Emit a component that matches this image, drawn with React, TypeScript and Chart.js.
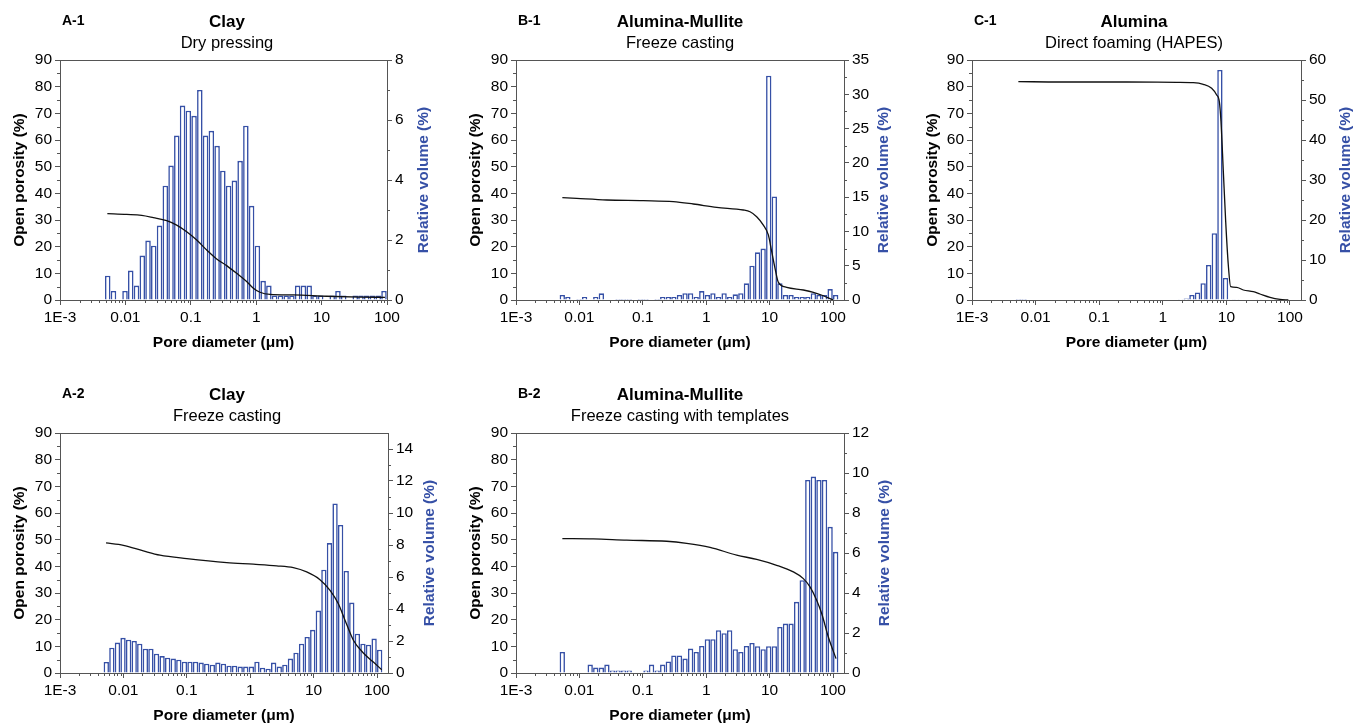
import React, { useEffect, useRef } from 'react';
import { Chart, registerables } from 'chart.js';

Chart.register(...registerables);

const FONT = '"Liberation Sans", Arial, Helvetica, sans-serif';
Chart.defaults.font.family = FONT;
Chart.defaults.color = '#000';

const BLUE = '#3650a6';
const AXIS = '#555555';
const TICK_FONT = 15.5;

// bin centres: log10(pore diameter / µm)
const binLog10 = [
  -2.27, -2.182, -2.094, -2.006, -1.918, -1.83, -1.742, -1.654, -1.566, -1.478,
  -1.39, -1.302, -1.214, -1.126, -1.038, -0.95, -0.862, -0.774, -0.686, -0.598,
  -0.51, -0.422, -0.334, -0.246, -0.158, -0.07, 0.018, 0.106, 0.194, 0.282,
  0.37, 0.458, 0.546, 0.634, 0.722, 0.81, 0.898, 0.986, 1.074, 1.162,
  1.25, 1.338, 1.426, 1.514, 1.602, 1.69, 1.778, 1.866, 1.954, 2.042,
];

const xTickLog10 = [-3, -2, -1, 0, 1, 2];
const xTickLabels = ['1E-3', '0.01', '0.1', '1', '10', '100'];
const xMinorFactors = [2, 3, 4, 5, 6, 7, 8, 9];
const porosityTicks = [0, 10, 20, 30, 40, 50, 60, 70, 80, 90];
const porosityMinorTicks = [5, 15, 25, 35, 45, 55, 65, 75, 85];

// ---- A-1 Clay, dry pressing
const a1Volume = [
  0.81, 0.3, 0, 0.3, 0.98, 0.48, 1.48, 1.98, 1.81, 2.48,
  3.81, 4.48, 5.48, 6.48, 6.31, 6.14, 7.0, 5.48, 5.64, 5.14,
  4.31, 3.81, 3.98, 4.64, 5.81, 3.14, 1.81, 0.64, 0.48, 0.15,
  0.15, 0.15, 0.15, 0.48, 0.48, 0.48, 0.15, 0.15, 0, 0.15,
  0.3, 0.15, 0, 0.15, 0.15, 0.15, 0.15, 0.15, 0.3,
];
const a1CurveLog10 = [-2.276, -1.981, -1.751, -1.573, -1.369, -1.216, -1.063, -0.91, -0.757, -0.604, -0.452, -0.299, -0.146, -0.044, 0.058, 0.211, 0.568, 1.077, 1.587, 1.969];
const a1CurvePorosity = [32.4, 32.1, 31.75, 30.9, 29.75, 28.1, 25.6, 22.5, 18.75, 15.4, 12.9, 10.0, 6.9, 4.4, 2.9, 2.1, 1.9, 1.4, 1.1, 1.0];
const a1VolTicks = [0, 2, 4, 6, 8];
const a1VolMinor = [1, 3, 5, 7];

// ---- B-1 Alumina-Mullite, freeze casting
const b1Volume = [
  0.73, 0.44, 0, 0.15, 0.44, 0, 0.44, 0.97, 0, 0,
  0.15, 0.15, 0.15, 0, 0.15, 0.15, 0, 0.15, 0.44, 0.44,
  0.44, 0.73, 1.0, 1.0, 0.44, 1.3, 0.73, 1.0, 0.44, 1.0,
  0.44, 0.83, 1.0, 2.43, 5.0, 6.95, 7.5, 32.7, 15.1, 2.43,
  0.73, 0.73, 0.44, 0.44, 0.44, 1.0, 0.73, 0.73, 1.6, 0.73,
];
const b1CurveLog10 = [-2.269, -2.043, -1.57, -0.992, -0.519, -0.203, 0.165, 0.586, 0.691, 0.796, 0.901, 0.98, 1.033, 1.085, 1.138, 1.269, 1.532, 1.69, 1.848, 2.005];
const b1CurvePorosity = [38.4, 38.1, 37.5, 37.25, 36.9, 36.0, 34.75, 33.75, 33.1, 31.25, 28.1, 24.4, 18.1, 11.9, 6.6, 4.75, 3.75, 2.9, 1.6, 0];
const b1VolTicks = [0, 5, 10, 15, 20, 25, 30, 35];
const b1VolMinor = [2.5, 7.5, 12.5, 17.5, 22.5, 27.5, 32.5];

// ---- C-1 Alumina, direct foaming (HAPES)
const c1Volume = [
  0.25, 0.25, 0.15, 0, 0, 0.15, 0, 0, 0, 0,
  0, 0, 0.1, 0, 0, 0, 0, 0, 0, 0,
  0, 0, 0, 0, 0, 0, 0, 0, 0.1, 0.2,
  0.4, 1.25, 1.9, 4.2, 8.75, 16.7, 57.5, 5.5, 0.2, 0.2,
  0, 0.1, 0, 0.2, 0, 0, 0, 0, 0, 0,
];
const c1CurveLog10 = [-2.271, -1.616, -0.568, 0.218, 0.48, 0.637, 0.768, 0.847, 0.889, 0.915, 0.952, 0.989, 1.03, 1.067, 1.161, 1.266, 1.423, 1.528, 1.686, 1.843, 1.974];
const c1CurvePorosity = [81.9, 81.75, 81.75, 81.6, 81.5, 80.9, 79.4, 76.9, 74.4, 66.9, 48.1, 29.4, 13.1, 5.0, 4.75, 3.75, 3.1, 2.25, 1.0, 0.25, 0];
const c1VolTicks = [0, 10, 20, 30, 40, 50, 60];
const c1VolMinor = [5, 15, 25, 35, 45, 55];

// ---- A-2 Clay, freeze casting
const a2Volume = [
  0.69, 1.58, 1.9, 2.2, 2.08, 2.0, 1.83, 1.52, 1.52, 1.21,
  1.06, 0.96, 0.9, 0.83, 0.71, 0.71, 0.71, 0.65, 0.58, 0.52,
  0.65, 0.58, 0.46, 0.46, 0.4, 0.4, 0.4, 0.71, 0.33, 0.27,
  0.65, 0.4, 0.52, 0.9, 1.27, 1.83, 2.25, 2.7, 3.9, 6.46,
  8.12, 10.6, 9.25, 6.38, 4.4, 2.46, 1.83, 1.77, 2.15, 1.46,
];
const a2CurveLog10 = [-2.274, -2.0, -1.686, -1.423, -1.0, -0.371, 0.049, 0.417, 0.68, 0.89, 1.1, 1.259, 1.39, 1.495, 1.627, 1.784, 1.942, 2.074];
const a2CurvePorosity = [48.8, 47.9, 45.8, 44.2, 42.9, 41.4, 40.8, 40.2, 39.5, 37.9, 35.0, 31.0, 26.0, 19.8, 12.3, 7.5, 4.1, 1.25];
const a2VolTicks = [0, 2, 4, 6, 8, 10, 12, 14];
const a2VolMinor = [1, 3, 5, 7, 9, 11, 13];

// ---- B-2 Alumina-Mullite, freeze casting with templates
const b2Volume = [
  1.05, 0, 0, 0, 0, 0.42, 0.27, 0.27, 0.42, 0.12,
  0.12, 0.12, 0.12, 0, 0, 0.12, 0.42, 0.12, 0.42, 0.58,
  0.88, 0.88, 0.72, 1.22, 1.05, 1.35, 1.69, 1.69, 2.14, 1.99,
  2.14, 1.19, 1.05, 1.35, 1.5, 1.34, 1.19, 1.34, 1.34, 2.3,
  2.47, 2.47, 3.56, 4.64, 9.65, 9.82, 9.65, 9.65, 7.31, 6.06,
];
const b2CurveLog10 = [-2.269, -1.78, -1.254, -0.624, -0.308, 0.06, 0.481, 0.796, 1.111, 1.374, 1.532, 1.637, 1.742, 1.821, 1.926, 2.047];
const b2CurvePorosity = [50.4, 50.3, 49.8, 49.4, 48.6, 47.1, 44.2, 42.6, 40.4, 37.9, 35.4, 32.3, 27.3, 22.3, 13.5, 5.4];
const b2VolTicks = [0, 2, 4, 6, 8, 10, 12];
const b2VolMinor = [1, 3, 5, 7, 9, 11];

type PanelCfg = {
  id: string;
  title: string;
  subtitle: string;
  plotL: number;
  plotR: number;
  plotT: number;
  xMax: number;
  volMax: number;
  volTicks: number[];
  volMinor: number[];
  volume: number[];
  curveLog10: number[];
  curvePorosity: number[];
  leftTitleX: number;
  rightTitleX: number;
  titleX: number;
};

const panels: PanelCfg[] = [
  { id: 'A-1', title: 'Clay', subtitle: 'Dry pressing', plotL: 60, plotR: 387, plotT: 60, xMax: 2.0, volMax: 8, volTicks: a1VolTicks, volMinor: a1VolMinor, volume: a1Volume, curveLog10: a1CurveLog10, curvePorosity: a1CurvePorosity, leftTitleX: 19, rightTitleX: 424, titleX: 227 },
  { id: 'B-1', title: 'Alumina-Mullite', subtitle: 'Freeze casting', plotL: 516, plotR: 844, plotT: 60, xMax: 2.173, volMax: 35, volTicks: b1VolTicks, volMinor: b1VolMinor, volume: b1Volume, curveLog10: b1CurveLog10, curvePorosity: b1CurvePorosity, leftTitleX: 475, rightTitleX: 884, titleX: 680 },
  { id: 'C-1', title: 'Alumina', subtitle: 'Direct foaming (HAPES)', plotL: 972, plotR: 1301, plotT: 60, xMax: 2.173, volMax: 60, volTicks: c1VolTicks, volMinor: c1VolMinor, volume: c1Volume, curveLog10: c1CurveLog10, curvePorosity: c1CurvePorosity, leftTitleX: 932, rightTitleX: 1346, titleX: 1134 },
  { id: 'A-2', title: 'Clay', subtitle: 'Freeze casting', plotL: 60, plotR: 388, plotT: 433, xMax: 2.173, volMax: 15, volTicks: a2VolTicks, volMinor: a2VolMinor, volume: a2Volume, curveLog10: a2CurveLog10, curvePorosity: a2CurvePorosity, leftTitleX: 19, rightTitleX: 430, titleX: 227 },
  { id: 'B-2', title: 'Alumina-Mullite', subtitle: 'Freeze casting with templates', plotL: 516, plotR: 844, plotT: 433, xMax: 2.173, volMax: 12, volTicks: b2VolTicks, volMinor: b2VolMinor, volume: b2Volume, curveLog10: b2CurveLog10, curvePorosity: b2CurvePorosity, leftTitleX: 475, rightTitleX: 885, titleX: 680 },
];

const TITLE_OFF = 13.3; // half line height + title padding
const PLOT_H = 240;
const X_AXIS_H = 56;
const TOP_PAD = 60;

const framePlugin = {
  id: 'frame',
  afterDraw(chart: any, _args: any, opts: any) {
    const { ctx, chartArea: ca, scales } = chart;
    ctx.save();
    ctx.strokeStyle = AXIS;
    ctx.lineWidth = 1;
    ctx.beginPath();
    ctx.moveTo(ca.left, Math.round(ca.top) + 0.5);
    ctx.lineTo(ca.right, Math.round(ca.top) + 0.5);
    const sx = scales.x;
    for (const v of opts.xMinor as number[]) {
      if (v < sx.min || v > sx.max) continue;
      const px = Math.round(sx.getPixelForValue(v)) + 0.5;
      ctx.moveTo(px, ca.bottom);
      ctx.lineTo(px, ca.bottom + 3);
    }
    const sy = scales.y;
    for (const v of opts.yMinor as number[]) {
      const py = Math.round(sy.getPixelForValue(v)) + 0.5;
      ctx.moveTo(ca.left - 3, py);
      ctx.lineTo(ca.left, py);
    }
    const sy1 = scales.y1;
    for (const v of opts.y1Minor as number[]) {
      const py = Math.round(sy1.getPixelForValue(v)) + 0.5;
      ctx.moveTo(ca.right, py);
      ctx.lineTo(ca.right + 3, py);
    }
    ctx.stroke();
    ctx.fillStyle = BLUE;
    ctx.font = `bold ${TICK_FONT}px ${FONT}`;
    ctx.textAlign = 'center';
    ctx.textBaseline = 'middle';
    ctx.translate(opts.rightTitleX, (ca.top + ca.bottom) / 2);
    ctx.rotate(-Math.PI / 2);
    ctx.fillText(opts.rightTitle, 0, 0);
    ctx.restore();
  },
};

const xMinorTicks: number[] = [];
for (const d of xTickLog10) {
  for (const k of xMinorFactors) xMinorTicks.push(d + Math.log10(k));
}

function Panel({ cfg }: { cfg: PanelCfg }) {
  const ref = useRef<HTMLCanvasElement>(null);
  const canvasLeft = Math.round(cfg.leftTitleX - TITLE_OFF);
  const canvasRight = Math.round(cfg.rightTitleX + TITLE_OFF);
  const canvasTop = cfg.plotT - TOP_PAD;
  const W = canvasRight - canvasLeft;
  const H = TOP_PAD + PLOT_H + X_AXIS_H;
  const leftW = cfg.plotL - canvasLeft;
  const rightW = canvasRight - cfg.plotR;

  useEffect(() => {
    const canvas = ref.current;
    if (!canvas) return;
    const chart = new Chart(canvas, {
      type: 'bar',
      data: {
        datasets: [
          {
            type: 'line',
            label: 'Open porosity (%)',
            data: cfg.curveLog10.map((x, i) => ({ x, y: cfg.curvePorosity[i] })),
            xAxisID: 'x',
            yAxisID: 'y',
            borderColor: '#111',
            borderWidth: 1.3,
            pointRadius: 0,
            cubicInterpolationMode: 'monotone',
            fill: false,
            order: 0,
          } as any,
          {
            type: 'bar',
            label: 'Relative volume (%)',
            data: cfg.volume.map((y, i) => ({ x: binLog10[i], y })),
            xAxisID: 'x',
            yAxisID: 'y1',
            backgroundColor: '#ffffff',
            borderColor: BLUE,
            borderWidth: 1.6,
            borderSkipped: 'start',
            barPercentage: 0.96,
            categoryPercentage: 1,
            order: 1,
          } as any,
        ],
      },
      options: {
        responsive: false,
        animation: false,
        devicePixelRatio: 1,
        layout: { padding: { top: TOP_PAD, left: 0, right: 0, bottom: 0 } },
        plugins: {
          legend: { display: false },
          tooltip: { enabled: false },
          title: { display: false },
          frame: {
            xMinor: xMinorTicks,
            yMinor: porosityMinorTicks,
            y1Minor: cfg.volMinor,
            rightTitle: 'Relative volume (%)',
            rightTitleX: cfg.rightTitleX - canvasLeft,
          },
        } as any,
        scales: {
          x: {
            type: 'linear',
            position: 'bottom',
            min: -3,
            max: cfg.xMax,
            offset: false,
            afterBuildTicks: (s: any) => {
              s.ticks = xTickLog10.map((v) => ({ value: v }));
            },
            afterFit: (s: any) => {
              s.height = X_AXIS_H;
            },
            ticks: {
              autoSkip: false,
              maxRotation: 0,
              minRotation: 0,
              padding: 3,
              color: '#000',
              font: { size: TICK_FONT },
              callback: (v: any) => {
                const i = xTickLog10.indexOf(Number(v));
                return i >= 0 ? xTickLabels[i] : '';
              },
            },
            grid: { display: true, drawOnChartArea: false, drawTicks: true, tickLength: 5, color: AXIS, offset: false },
            border: { display: true, color: AXIS, width: 1 },
            title: {
              display: true,
              text: 'Pore diameter (μm)',
              color: '#000',
              font: { size: TICK_FONT, weight: 'bold' },
              padding: { top: 7, bottom: 4 },
            },
          } as any,
          y: {
            type: 'linear',
            position: 'left',
            min: 0,
            max: 90,
            afterBuildTicks: (s: any) => {
              s.ticks = porosityTicks.map((v) => ({ value: v }));
            },
            afterFit: (s: any) => {
              s.width = leftW;
            },
            ticks: { padding: 3, color: '#000', font: { size: TICK_FONT } },
            grid: { display: true, drawOnChartArea: false, drawTicks: true, tickLength: 5, color: AXIS },
            border: { display: true, color: AXIS, width: 1 },
            title: {
              display: true,
              text: 'Open porosity (%)',
              color: '#000',
              font: { size: TICK_FONT, weight: 'bold' },
              padding: { top: 4, bottom: 4 },
            },
          } as any,
          y1: {
            type: 'linear',
            position: 'right',
            min: 0,
            max: cfg.volMax,
            afterBuildTicks: (s: any) => {
              s.ticks = cfg.volTicks.map((v) => ({ value: v }));
            },
            afterFit: (s: any) => {
              s.width = rightW;
            },
            ticks: { padding: 3, color: '#000', font: { size: TICK_FONT } },
            grid: { display: true, drawOnChartArea: false, drawTicks: true, tickLength: 5, color: AXIS },
            border: { display: true, color: AXIS, width: 1 },
            title: { display: false },
          } as any,
        },
      },
      plugins: [framePlugin as any],
    });
    return () => chart.destroy();
  }, []);

  return (
    <>
      <canvas
        ref={ref}
        width={W}
        height={H}
        style={{ position: 'absolute', left: canvasLeft, top: canvasTop, width: W, height: H }}
      />
      <div
        style={{
          position: 'absolute',
          left: cfg.plotL + 2,
          top: cfg.plotT - 48,
          font: `bold 14px ${FONT}`,
          lineHeight: '16px',
          color: '#000',
          whiteSpace: 'nowrap',
        }}
      >
        {cfg.id}
      </div>
      <div
        style={{
          position: 'absolute',
          left: cfg.titleX - 160,
          width: 320,
          top: cfg.plotT - 48,
          textAlign: 'center',
          font: `bold 17px ${FONT}`,
          lineHeight: '20px',
          color: '#000',
          whiteSpace: 'nowrap',
        }}
      >
        {cfg.title}
      </div>
      <div
        style={{
          position: 'absolute',
          left: cfg.titleX - 160,
          width: 320,
          top: cfg.plotT - 28,
          textAlign: 'center',
          font: `16.5px ${FONT}`,
          lineHeight: '20px',
          color: '#000',
          whiteSpace: 'nowrap',
        }}
      >
        {cfg.subtitle}
      </div>
    </>
  );
}

export default function App() {
  return (
    <div
      style={{
        position: 'fixed',
        left: 0,
        top: 0,
        width: 1354,
        height: 725,
        overflow: 'hidden',
        background: '#fff',
        fontFamily: FONT,
      }}
    >
      {panels.map((p) => (
        <Panel key={p.id} cfg={p} />
      ))}
    </div>
  );
}
